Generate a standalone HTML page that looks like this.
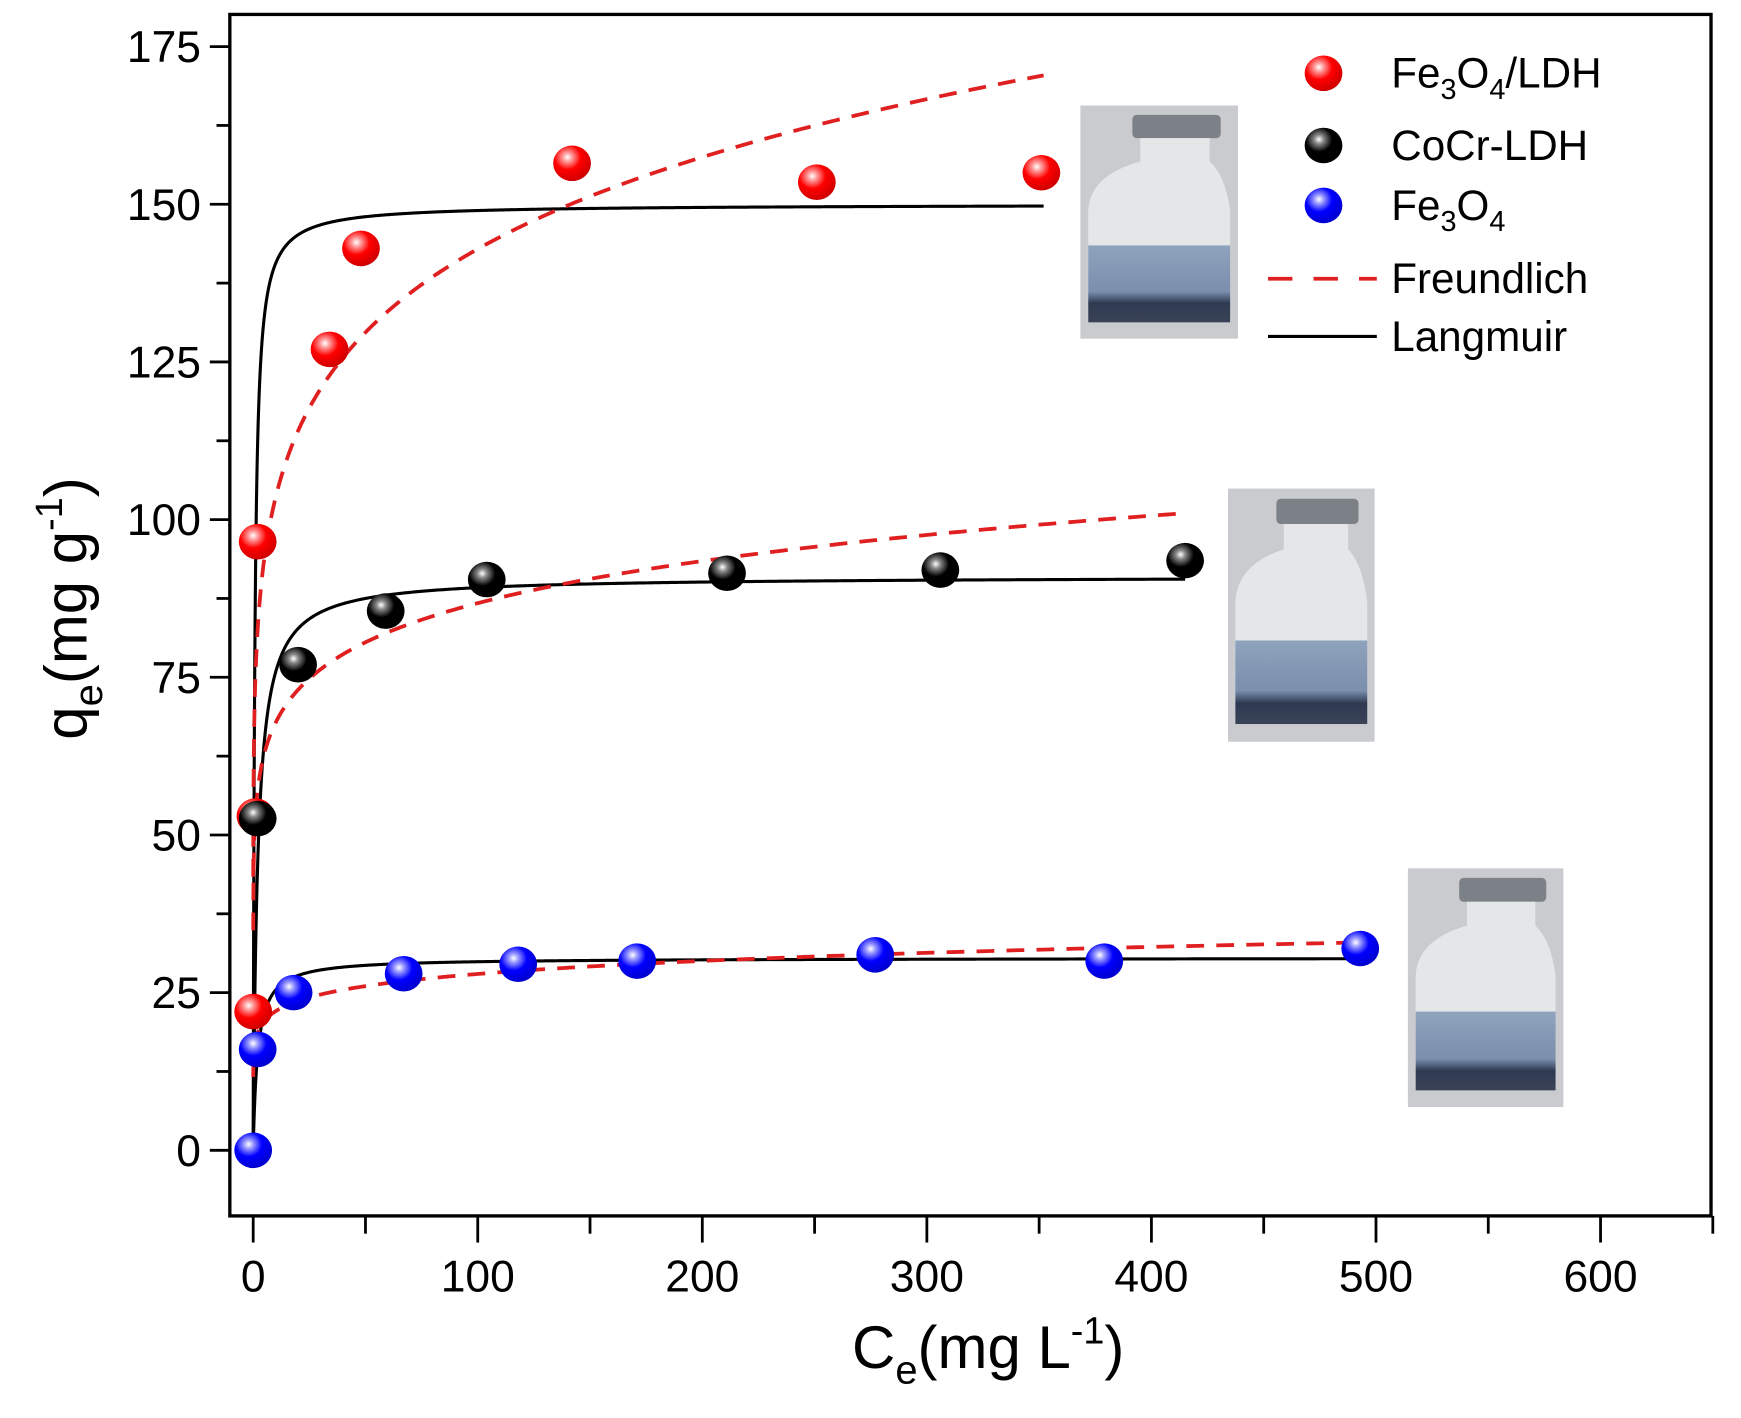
<!DOCTYPE html>
<html><head><meta charset="utf-8"><style>
html,body{margin:0;padding:0;background:#fff;}
svg{display:block;font-family:"Liberation Sans",Arial,sans-serif;}
</style></head><body>
<svg id="chart" width="1741" height="1418" viewBox="0 0 1568 1277" preserveAspectRatio="none" xmlns="http://www.w3.org/2000/svg">
<defs>
<radialGradient id="gR" cx="0.38" cy="0.33" r="0.7"><stop offset="0" stop-color="#fff"/><stop offset="0.18" stop-color="#ff9a9a"/><stop offset="0.5" stop-color="#f00"/><stop offset="1" stop-color="#c00"/></radialGradient>
<radialGradient id="gK" cx="0.38" cy="0.33" r="0.7"><stop offset="0" stop-color="#fff"/><stop offset="0.18" stop-color="#888"/><stop offset="0.5" stop-color="#000"/><stop offset="1" stop-color="#000"/></radialGradient>
<radialGradient id="gB" cx="0.38" cy="0.33" r="0.7"><stop offset="0" stop-color="#fff"/><stop offset="0.18" stop-color="#9a9aff"/><stop offset="0.5" stop-color="#00f"/><stop offset="1" stop-color="#00c"/></radialGradient>
<linearGradient id="liq" x1="0" y1="0" x2="0" y2="1"><stop offset="0" stop-color="#8fa3bd"/><stop offset="0.6" stop-color="#7b8fae"/><stop offset="0.75" stop-color="#2f3a52"/><stop offset="1" stop-color="#3a4356"/></linearGradient>
</defs>
<g id="photos"></g>
<g id="axes"></g>
<g id="series"></g>
<g id="legend"></g>
</svg>
<script>
const NS="http://www.w3.org/2000/svg";
// data
const fe3o4LdhX=[0,1,2,34,48,142,251,351];
const fe3o4LdhY=[22,53,96.5,127,143,156.5,153.5,155];
const cocrX=[2,20,59,104,211,306,415];
const cocrY=[52.6,77,85.5,90.5,91.5,92,93.5];
const fe3o4X=[0,2,18,67,118,171,277,379,493];
const fe3o4Y=[0,16,25,28,29.5,30,31,30,32];
// fit params
const langQm=[150,91,30.5];
const langK=[1.5,0.5,0.5];
const freKF=[75,53,17.4];
const freN=[0.14,0.107,0.103];
const fitMaxX=[352,415,493];
const xTicks=[0,100,200,300,400,500,600];
const yTicks=[0,25,50,75,100,125,150,175];

const X0=207,X1=1541,Y0=1095,Y1=13;
const xmin=-10.4,xmax=649.2,ymin=-10.4,ymax=180.1;
const sx=v=>X0+(v-xmin)/(xmax-xmin)*(X1-X0);
const sy=v=>Y0-(v-ymin)/(ymax-ymin)*(Y0-Y1);
function el(t,a,p){const e=document.createElementNS(NS,t);for(const k in a)e.setAttribute(k,a[k]);p.appendChild(e);return e;}
const axes=document.getElementById('axes'),ser=document.getElementById('series'),leg=document.getElementById('legend'),ph=document.getElementById('photos');

function vial(x,y,w,h,name){
 const g=el('g',{},ph);
 
 
 el('rect',{x:x,y:y,width:w,height:h,fill:'#c9cbce'},g);
 el('rect',{x:x+w*0.33,y:y+h*0.04,width:w*0.56,height:h*0.1,rx:4,fill:'#7b8186'},g);
 el('path',{d:`M${x+w*0.38} ${y+h*0.14} L${x+w*0.38} ${y+h*0.24} Q${x+w*0.06} ${y+h*0.3} ${x+w*0.05} ${y+h*0.45} L${x+w*0.05} ${y+h*0.93} L${x+w*0.95} ${y+h*0.93} L${x+w*0.95} ${y+h*0.45} Q${x+w*0.92} ${y+h*0.3} ${x+w*0.82} ${y+h*0.24} L${x+w*0.82} ${y+h*0.14} Z`,fill:'#e4e6e8'},g);
 el('rect',{x:x+w*0.05,y:y+h*0.6,width:w*0.9,height:h*0.33,fill:'url(#liq)'},g);
}
vial(973,95,142,210,'vial-photo-fe3o4-ldh');
vial(1106,440,132,228,'vial-photo-cocr-ldh');
vial(1268,782,140,215,'vial-photo-fe3o4');

const fr=el('rect',{x:X0,y:Y1,width:X1-X0,height:Y0-Y1,fill:'none',stroke:'#000','stroke-width':3},axes);


for(let v=0;v<=650;v+=50){
 const major=v%100===0;
 const t=el('line',{x1:sx(v),x2:sx(v),y1:Y0,y2:Y0+(major?24:16),stroke:'#000','stroke-width':2.5},axes);
 
 
}
xTicks.forEach(v=>{
 const t=el('text',{x:sx(v),y:Y0+68,'text-anchor':'middle','font-size':40},axes);t.textContent=v;
 
 
});
for(let v=0;v<=175;v+=12.5){
 const major=v%25===0;
 const t=el('line',{x1:X0,x2:X0-(major?18:12),y1:sy(v),y2:sy(v),stroke:'#000','stroke-width':2.5},axes);
 
 
}
yTicks.forEach(v=>{
 const t=el('text',{x:X0-26,y:sy(v)+14,'text-anchor':'end','font-size':40},axes);t.textContent=v;
 
 
});
const xt=el('text',{x:890,y:1232,'text-anchor':'middle','font-size':54},axes);
xt.innerHTML='C<tspan font-size="36" dy="14">e</tspan><tspan dy="-14">(mg L</tspan><tspan font-size="34" dy="-22">-1</tspan><tspan dy="22">)</tspan>';


const yt=el('text',{x:0,y:0,'text-anchor':'middle','font-size':54,transform:'translate(78,548) rotate(-90)'},axes);
yt.innerHTML='q<tspan font-size="36" dy="14">e</tspan><tspan dy="-14">(mg g</tspan><tspan font-size="34" dy="-22">-1</tspan><tspan dy="22">)</tspan>';



const names=['fe3o4-ldh','cocr-ldh','fe3o4'];
for(let i=0;i<3;i++){
 let pl='',pf='';
 for(let k=0;k<=600;k++){
  const c=Math.pow(k/600,3)*fitMaxX[i];
  const ql=langQm[i]*langK[i]*c/(1+langK[i]*c);
  pl+=(k?'L':'M')+sx(c).toFixed(2)+' '+sy(ql).toFixed(2);
  const cf=Math.max(c,0.02);
  const qf=freKF[i]*Math.pow(cf,freN[i]);
  pf+=(k?'L':'M')+sx(cf).toFixed(2)+' '+sy(qf).toFixed(2);
 }
 const a=el('path',{d:pl,fill:'none',stroke:'#000','stroke-width':2.8},ser);
 
 
 const b=el('path',{d:pf,fill:'none',stroke:'#e02020','stroke-width':3.4,'stroke-dasharray':'16 11'},ser);
 
 
}
function pts(xs,ys,g,n){
 xs.forEach((x,j)=>{
  const c=el('ellipse',{cx:sx(x),cy:sy(ys[j]),rx:17,ry:16,fill:g},ser);
  
  
 });
}
pts(fe3o4LdhX,fe3o4LdhY,'url(#gR)','fe3o4-ldh');
pts(cocrX,cocrY,'url(#gK)','cocr-ldh');
pts(fe3o4X,fe3o4Y,'url(#gB)','fe3o4');

function lm(y,g,html,n){
 const c=el('ellipse',{cx:1192,cy:y,rx:17,ry:16,fill:g},leg);
 
 
 const t=el('text',{x:1253,y:y+13,'font-size':38},leg);t.innerHTML=html;
 
 
}
lm(66,'url(#gR)','Fe<tspan font-size="26" dy="10">3</tspan><tspan dy="-10">O</tspan><tspan font-size="26" dy="10">4</tspan><tspan dy="-10">/LDH</tspan>','fe3o4-ldh');
lm(131,'url(#gK)','CoCr-LDH','cocr-ldh');
lm(185,'url(#gB)','Fe<tspan font-size="26" dy="10">3</tspan><tspan dy="-10">O</tspan><tspan font-size="26" dy="10">4</tspan>','fe3o4');
const l1=el('line',{x1:1142,x2:1240,y1:251,y2:251,stroke:'#e02020','stroke-width':3.4,'stroke-dasharray':'22 19'},leg);


const t1=el('text',{x:1253,y:264,'font-size':38},leg);t1.textContent='Freundlich';


const l2=el('line',{x1:1142,x2:1240,y1:303,y2:303,stroke:'#000','stroke-width':2.8},leg);


const t2=el('text',{x:1253,y:316,'font-size':38},leg);t2.textContent='Langmuir';


</script>
</body></html>
